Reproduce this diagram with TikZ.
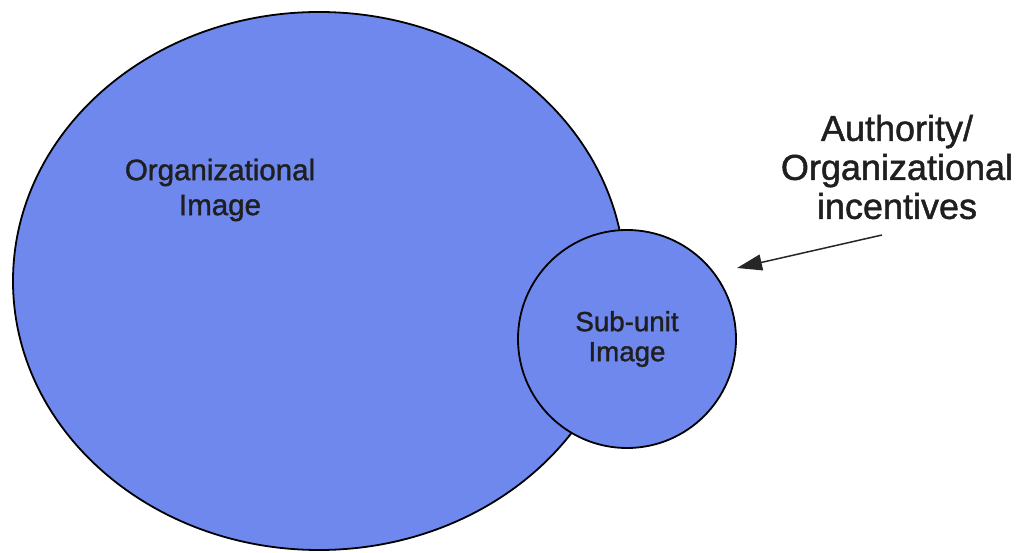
\documentclass[tikz,border=0pt]{standalone}
\usepackage{fontspec}
\setmainfont{Liberation Sans}[FakeBold=1.3]
\usetikzlibrary{arrows.meta}
\definecolor{imgblue}{RGB}{110,136,238}
\tikzset{
  blob/.style={draw=black, line width=1.8pt, fill=imgblue},
  lbl/.style={align=center, inner sep=0pt, text=black!88},
  pointer/.style={draw=black!85, line width=1.5pt, -{Triangle[length=25pt,width=16pt]}}
}
\begin{document}
\begin{tikzpicture}[x=1pt,y=-1pt]
\useasboundingbox (0,0) rectangle (1018,553);
\path[blob] (319,281) ellipse [x radius=306, y radius=269];
\node[blob, circle, minimum size=218pt, inner sep=0pt] (sub) at (627,339) {};
\node[lbl, font=\fontsize{29.5}{35}\selectfont] (org) at (220,190) {Organizational\\Image};
\node[lbl, font=\fontsize{27.7}{30}\selectfont] at (sub.center) {Sub-unit\\Image};
\node[lbl, font=\fontsize{36}{39}\selectfont] (auth) at (897,167) {Authority/\\Organizational\\incentives};
\coordinate (tail) at (882,235);
\coordinate (tip) at (737,268);
\draw[pointer] (tail) -- (tip);
\end{tikzpicture}
\end{document}
